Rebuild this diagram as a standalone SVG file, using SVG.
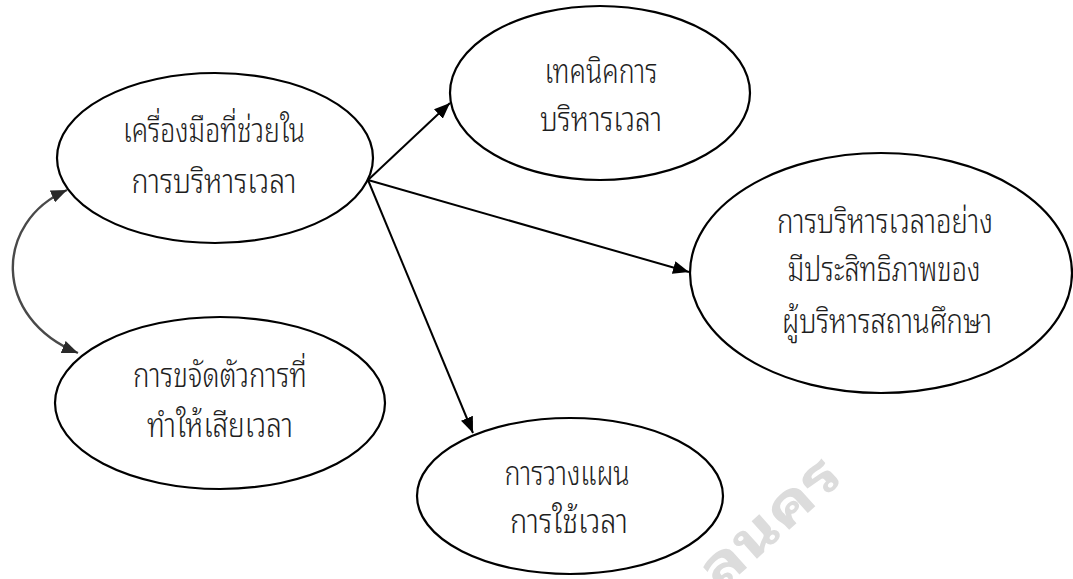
<svg xmlns="http://www.w3.org/2000/svg" width="1073" height="579" viewBox="0 0 1073 579">
  <style>
    .node { fill: #ffffff; stroke: #000000; stroke-width: 2.2; }
    .label { font-family: "Noto Sans Thai Looped", "Noto Sans Thai", "Noto Sans", "DejaVu Sans", sans-serif; font-size: 33px; font-weight: 300; fill: #1e1e1e; text-anchor: middle; }
    .link { fill: none; stroke: #000000; stroke-width: 2; }
    .swap { fill: none; stroke: #4a4a4a; stroke-width: 2.4; }
    .mark { font-family: "Noto Sans Thai Looped", "Noto Sans Thai", "Noto Sans", sans-serif; font-size: 56px; font-weight: bold; fill: #dcdcdc; }
  </style>
  <defs>
    <marker id="arrow" markerUnits="userSpaceOnUse" markerWidth="17" markerHeight="13" refX="16" refY="6.5" orient="auto">
      <path d="M0,0 L16,6.5 L0,13 z" fill="#000000"/>
    </marker>
    <marker id="arrow-soft" markerUnits="userSpaceOnUse" markerWidth="17" markerHeight="13" refX="16" refY="6.5" orient="auto-start-reverse">
      <path d="M0,0 L16,6.5 L0,13 z" fill="#2a2a2a"/>
    </marker>
    <filter id="soft" x="-20%" y="-20%" width="140%" height="140%">
      <feGaussianBlur stdDeviation="0.6"/>
    </filter>
  </defs>

  <rect width="1073" height="579" fill="#ffffff"/>

  <!-- faint stamp in the lower right, running off the page edge -->
  <text class="mark" transform="translate(720,592) rotate(-42)" textLength="168" lengthAdjust="spacingAndGlyphs">ลนคร</text>

  <g id="node-tools">
    <ellipse class="node" cx="215" cy="158" rx="158" ry="85"/>
    <text class="label" x="214" y="142" textLength="182" lengthAdjust="spacingAndGlyphs">เครื่องมือที่ช่วยใน</text>
    <text class="label" x="214" y="193" textLength="165" lengthAdjust="spacingAndGlyphs">การบริหารเวลา</text>
  </g>

  <g id="node-techniques">
    <ellipse class="node" cx="600" cy="93" rx="150" ry="87"/>
    <text class="label" x="601" y="83" textLength="113" lengthAdjust="spacingAndGlyphs">เทคนิคการ</text>
    <text class="label" x="601" y="131" textLength="122" lengthAdjust="spacingAndGlyphs">บริหารเวลา</text>
  </g>

  <g id="node-effective">
    <ellipse class="node" cx="881" cy="273" rx="191" ry="120"/>
    <text class="label" x="885" y="233" textLength="216" lengthAdjust="spacingAndGlyphs">การบริหารเวลาอย่าง</text>
    <text class="label" x="884" y="281" textLength="193" lengthAdjust="spacingAndGlyphs">มีประสิทธิภาพของ</text>
    <text class="label" x="887" y="333" textLength="210" lengthAdjust="spacingAndGlyphs">ผู้บริหารสถานศึกษา</text>
  </g>

  <g id="node-eliminate">
    <ellipse class="node" cx="220" cy="403" rx="165" ry="86"/>
    <text class="label" x="220" y="387" textLength="174" lengthAdjust="spacingAndGlyphs">การขจัดตัวการที่</text>
    <text class="label" x="220" y="437" textLength="146" lengthAdjust="spacingAndGlyphs">ทำให้เสียเวลา</text>
  </g>

  <g id="node-planning">
    <ellipse class="node" cx="570" cy="496" rx="153" ry="78"/>
    <text class="label" x="567" y="485" textLength="125" lengthAdjust="spacingAndGlyphs">การวางแผน</text>
    <text class="label" x="569" y="533" textLength="118" lengthAdjust="spacingAndGlyphs">การใช้เวลา</text>
  </g>

  <g id="connectors">
    <line class="link" x1="368" y1="180" x2="450" y2="103" marker-end="url(#arrow)"/>
    <line class="link" x1="368" y1="180" x2="689" y2="272" marker-end="url(#arrow)"/>
    <line class="link" x1="368" y1="180" x2="473" y2="433" marker-end="url(#arrow)"/>
    <path class="swap" filter="url(#soft)" d="M67,190 C-6,222 -8,318 78,353" marker-start="url(#arrow-soft)" marker-end="url(#arrow-soft)"/>
  </g>
</svg>
